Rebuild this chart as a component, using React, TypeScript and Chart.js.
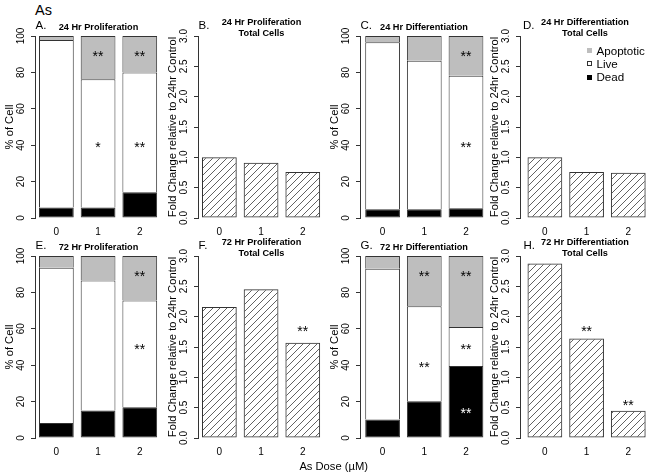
import React, { useEffect, useRef } from "react";
import { Chart, registerables } from "chart.js";

Chart.register(...registerables);

const FONT = '"Liberation Sans", Arial, Helvetica, sans-serif';

// ---------- categories, tick labels, legend ----------
const doseLabels = ["0", "1", "2"];
const pctTickLabels = ["0", "20", "40", "60", "80", "100"];
const foldTickLabels = ["0.0", "0.5", "1.0", "1.5", "2.0", "2.5", "3.0"];
const legendLabels = ["Apoptotic", "Live", "Dead"];

// ---------- A. 24 Hr Proliferation (% of cells) ----------
const deadProl24 = [5.8, 5.8, 14.1];
const liveProl24 = [92.0, 70.4, 65.9];
const apopProl24 = [2.2, 23.8, 20.0];
// ---------- B. 24 Hr Proliferation total cells ----------
const foldProl24 = [1.0, 0.91, 0.76];
// ---------- C. 24 Hr Differentiation ----------
const deadDiff24 = [4.8, 4.8, 5.3];
const liveDiff24 = [91.7, 81.6, 72.9];
const apopDiff24 = [3.5, 13.6, 21.8];
// ---------- D. 24 Hr Differentiation total cells ----------
const foldDiff24 = [1.0, 0.76, 0.745];
// ---------- E. 72 Hr Proliferation ----------
const deadProl72 = [8.3, 15.1, 16.9];
const liveProl72 = [85.2, 71.5, 58.7];
const apopProl72 = [6.5, 13.4, 24.4];
// ---------- F. 72 Hr Proliferation total cells ----------
const foldProl72 = [2.16, 2.45, 1.57];
// ---------- G. 72 Hr Differentiation ----------
const deadDiff72 = [10.1, 20.2, 39.5];
const liveDiff72 = [82.9, 52.2, 21.5];
const apopDiff72 = [7.0, 27.6, 39.0];
// ---------- H. 72 Hr Differentiation total cells ----------
const foldDiff72 = [2.875, 1.64, 0.45];

// significance marks: [dose index, value, text, colour?]
const marksProl24: any[] = [[1, 90, "**"], [1, 40, "*"], [2, 90, "**"], [2, 40, "**"]];
const marksFoldProl24: any[] = [];
const marksDiff24: any[] = [[2, 90, "**"], [2, 40, "**"]];
const marksFoldDiff24: any[] = [];
const marksProl72: any[] = [[2, 90, "**"], [2, 50, "**"]];
const marksFoldProl72: any[] = [[2, 1.79, "**"]];
const marksDiff72: any[] = [[1, 90, "**"], [1, 40, "**"], [2, 90, "**"], [2, 50, "**"], [2, 15, "**", "#ffffff"]];
const marksFoldDiff72: any[] = [[1, 1.79, "**"], [2, 0.58, "**"]];

// ---------- layout constants ----------
const UNIT = 34.75; // px per bar width
const YW = 40; // y axis box width
const TH = 40; // space above plot
const BH = 34; // x axis box height
const PLOT_H = 182;
const GRAY = "#bebebe";
const EDGE = "#333333";

const barCenter = (i: number) => 0.7 + 1.2 * i;

type Panel = {
  letter: string;
  title: string[];
  kind: "pct" | "fold";
  dead?: number[];
  live?: number[];
  apop?: number[];
  fold?: number[];
  marks: any[];
  axisX: number;
  top: number;
  xmin: number;
  letterDx: number;
};

const panels: Panel[] = [
  { letter: "A.", title: ["24 Hr Proliferation"], kind: "pct", dead: deadProl24, live: liveProl24, apop: apopProl24, marks: marksProl24, axisX: 35, top: 36, xmin: 0.085, letterDx: 0.5 },
  { letter: "B.", title: ["24 Hr Proliferation", "Total Cells"], kind: "fold", fold: foldProl24, marks: marksFoldProl24, axisX: 198, top: 36, xmin: 0.085, letterDx: 0.5 },
  { letter: "C.", title: ["24 Hr Differentiation"], kind: "pct", dead: deadDiff24, live: liveDiff24, apop: apopDiff24, marks: marksDiff24, axisX: 360, top: 36, xmin: 0.05, letterDx: 0.5 },
  { letter: "D.", title: ["24 Hr Differentiation", "Total Cells"], kind: "fold", fold: foldDiff24, marks: marksFoldDiff24, axisX: 520, top: 36, xmin: -0.016, letterDx: 3 },
  { letter: "E.", title: ["72 Hr Proliferation"], kind: "pct", dead: deadProl72, live: liveProl72, apop: apopProl72, marks: marksProl72, axisX: 35, top: 256, xmin: 0.085, letterDx: 0.5 },
  { letter: "F.", title: ["72 Hr Proliferation", "Total Cells"], kind: "fold", fold: foldProl72, marks: marksFoldProl72, axisX: 198, top: 256, xmin: 0.085, letterDx: 0.5 },
  { letter: "G.", title: ["72 Hr Differentiation"], kind: "pct", dead: deadDiff72, live: liveDiff72, apop: apopDiff72, marks: marksDiff72, axisX: 360, top: 256, xmin: 0.05, letterDx: 0.5 },
  { letter: "H.", title: ["72 Hr Differentiation", "Total Cells"], kind: "fold", fold: foldDiff72, marks: marksFoldDiff72, axisX: 520, top: 256, xmin: -0.016, letterDx: 3.5 },
];

function geometry(p: Panel) {
  const left = p.axisX - YW;
  const W = Math.min(Math.round(YW + (3.736 - p.xmin) * UNIT), 651 - left);
  const xmax = p.xmin + (W - YW) / UNIT;
  const H = TH + PLOT_H + BH;
  return { left, top: p.top - TH, W, H, xmax };
}

function makeHatch(): CanvasPattern {
  const s = 7;
  const c = document.createElement("canvas");
  c.width = s;
  c.height = s;
  const g = c.getContext("2d")!;
  g.strokeStyle = "#3a3a3a";
  g.lineWidth = 0.8;
  g.beginPath();
  g.moveTo(-1, s + 1);
  g.lineTo(s + 1, -1);
  g.moveTo(-1, 1);
  g.lineTo(1, -1);
  g.moveTo(s - 1, s + 1);
  g.lineTo(s + 1, s - 1);
  g.stroke();
  return g.createPattern(c, "repeat")!;
}

function makeDecor(p: Panel) {
  return {
    id: "decor",
    afterDatasetsDraw(chart: any) {
      const { ctx, scales } = chart;
      ctx.save();
      ctx.font = `14px ${FONT}`;
      ctx.textAlign = "center";
      ctx.textBaseline = "alphabetic";
      for (const m of p.marks) {
        const [i, v, text, color] = m;
        const px = scales.x.getPixelForValue(barCenter(i));
        const py = scales.y.getPixelForValue(v);
        const tm = ctx.measureText(text);
        ctx.fillStyle = color || "#000";
        ctx.fillText(text, px, py + (tm.actualBoundingBoxAscent - tm.actualBoundingBoxDescent) / 2);
      }
      ctx.restore();
    },
    afterDraw(chart: any) {
      const { ctx, chartArea } = chart;
      ctx.save();
      ctx.fillStyle = "#000";
      ctx.textBaseline = "middle";
      const cx = (chartArea.left + chartArea.right) / 2;
      ctx.font = `bold 9.2px ${FONT}`;
      ctx.textAlign = "center";
      if (p.title.length === 1) {
        ctx.fillText(p.title[0], cx, chartArea.top - 8.3);
      } else {
        ctx.fillText(p.title[0], cx, chartArea.top - 13.5);
        ctx.fillText(p.title[1], cx, chartArea.top - 3);
      }
      ctx.font = `11.5px ${FONT}`;
      ctx.textAlign = "left";
      ctx.fillText(p.letter, chartArea.left + p.letterDx, chartArea.top - 10);
      ctx.restore();
    },
  };
}

function PanelChart({ p }: { p: Panel }) {
  const ref = useRef<HTMLCanvasElement>(null);
  const g = geometry(p);
  useEffect(() => {
    const canvas = ref.current!;
    const barCommon = {
      borderColor: EDGE,
      borderSkipped: false as const,
      categoryPercentage: 1,
      barPercentage: 1 / 1.2,
    };
    const fullBorder = { top: 1, right: 1, bottom: 1, left: 1 };
    const openBottom = { top: 1, right: 1, bottom: 0, left: 1 };
    const pts = (arr: number[]) => arr.map((v, i) => ({ x: barCenter(i), y: v }));
    let datasets: any[];
    if (p.kind === "pct") {
      datasets = [
        { label: "Dead", data: pts(p.dead!), backgroundColor: "#000000", borderWidth: fullBorder, ...barCommon },
        { label: "Live", data: pts(p.live!), backgroundColor: "#ffffff", borderWidth: openBottom, ...barCommon },
        { label: "Apoptotic", data: pts(p.apop!), backgroundColor: GRAY, borderWidth: openBottom, ...barCommon },
      ];
    } else {
      datasets = [{ label: "Total", data: pts(p.fold!), backgroundColor: makeHatch(), borderWidth: fullBorder, ...barCommon }];
    }
    const isPct = p.kind === "pct";
    const tickLabels = isPct ? pctTickLabels : foldTickLabels;
    const chart = new Chart(canvas, {
      type: "bar",
      data: { datasets },
      options: {
        responsive: false,
        animation: false,
        events: [],
        layout: { padding: { top: TH, left: 0, right: 0, bottom: 0 } },
        plugins: {
          legend: { display: false },
          tooltip: { enabled: false },
          title: { display: false },
        },
        scales: {
          x: {
            type: "linear",
            min: p.xmin,
            max: g.xmax,
            stacked: true,
            offset: false,
            grid: { display: false, drawTicks: false },
            border: { display: false },
            afterBuildTicks: (s: any) => {
              s.ticks = doseLabels.map((_, i) => ({ value: barCenter(i) }));
            },
            afterFit: (s: any) => {
              s.height = BH;
            },
            ticks: {
              autoSkip: false,
              maxRotation: 0,
              minRotation: 0,
              padding: 8.5,
              color: "#000",
              font: { family: FONT, size: 10, lineHeight: 1.2 },
              callback: (_v: any, i: number) => doseLabels[i],
            },
          },
          y: {
            type: "linear",
            min: 0,
            max: isPct ? 100 : 3,
            stacked: true,
            afterBuildTicks: (s: any) => {
              const step = isPct ? 20 : 0.5;
              s.ticks = tickLabels.map((_, i) => ({ value: i * step }));
            },
            afterFit: (s: any) => {
              s.width = YW;
            },
            grid: {
              display: true,
              drawOnChartArea: false,
              drawTicks: true,
              tickLength: 4,
              color: EDGE,
              lineWidth: 1,
            },
            border: { display: true, color: EDGE, width: 1 },
            ticks: {
              autoSkip: false,
              minRotation: 90,
              maxRotation: 90,
              crossAlign: "center",
              padding: isPct ? 1.7 : 2.6,
              color: "#000",
              font: { family: FONT, size: 10, lineHeight: 1.2 },
              callback: (_v: any, i: number) => tickLabels[i],
            },
            title: {
              display: true,
              text: isPct ? "% of Cell" : "Fold Change relative to 24hr Control",
              color: "#000",
              font: { family: FONT, size: 11.2, lineHeight: 1 },
              padding: { top: 8.9, bottom: 0 },
            },
          },
        },
      } as any,
      plugins: [makeDecor(p)],
    });
    return () => chart.destroy();
  }, []);
  return (
    <canvas
      ref={ref}
      width={g.W}
      height={g.H}
      style={{ position: "absolute", left: g.left, top: g.top, width: g.W, height: g.H }}
    />
  );
}

const legendSwatches = [
  { fill: GRAY, border: GRAY },
  { fill: "#ffffff", border: "#333" },
  { fill: "#000000", border: "#000" },
];

export default function App() {
  return (
    <div
      style={{
        position: "absolute",
        left: 0,
        top: 0,
        width: 651,
        height: 476,
        overflow: "hidden",
        background: "#ffffff",
        fontFamily: FONT,
        color: "#000",
      }}
    >
      <div style={{ position: "absolute", left: 35, top: 2, fontSize: 14.5, lineHeight: "16px" }}>As</div>
      {panels.map((p) => (
        <PanelChart key={p.letter} p={p} />
      ))}
      {legendLabels.map((lab, i) => {
        const cy = 50.5 + i * 13.3;
        const sw = legendSwatches[i];
        return (
          <React.Fragment key={lab}>
            <div
              style={{
                position: "absolute",
                left: 586.5,
                top: cy - 2.5,
                width: 5,
                height: 5,
                boxSizing: "border-box",
                background: sw.fill,
                border: `1px solid ${sw.border}`,
              }}
            />
            <div style={{ position: "absolute", left: 596.5, top: cy - 7, fontSize: 11.6, lineHeight: "14px", whiteSpace: "nowrap" }}>
              {lab}
            </div>
          </React.Fragment>
        );
      })}
      <div
        style={{
          position: "absolute",
          left: 233.7,
          width: 200,
          top: 458.7,
          textAlign: "center",
          fontSize: 11.2,
          lineHeight: "14px",
        }}
      >
        As Dose (µM)
      </div>
    </div>
  );
}
